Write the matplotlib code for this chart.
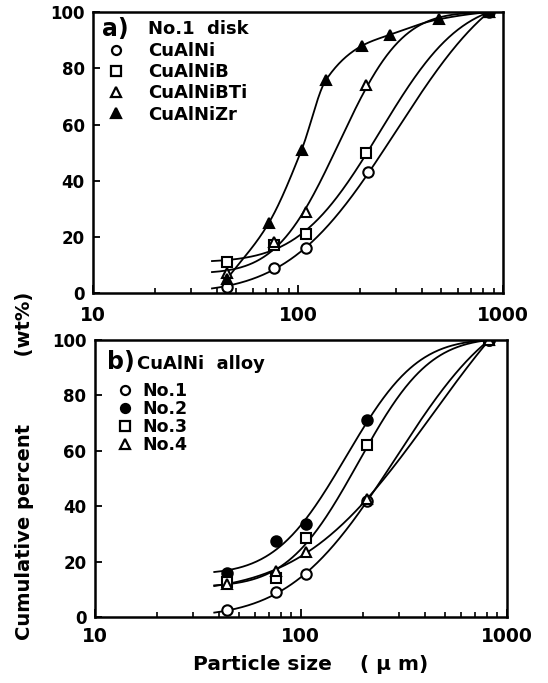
import numpy as np
import matplotlib
matplotlib.use("Agg")
import matplotlib.pyplot as plt
from matplotlib.lines import Line2D
from matplotlib.ticker import LogLocator, NullFormatter, FixedLocator

plt.rcParams['font.family'] = ['DejaVu Sans']
plt.rcParams['font.weight'] = 'bold'

# ---------------- data ----------------
# panel a) No.1 disk
size_a_ni = [45, 76, 109, 220, 850]
pct_a_ni = [2, 9, 16, 43, 100]
size_a_nib = [45, 76, 109, 215, 850]
pct_a_nib = [11, 17, 21, 50, 100]
size_a_nibti = [45, 76, 109, 215, 850]
pct_a_nibti = [7, 18, 29, 74, 100]
size_a_zr = [45, 72, 104, 137, 204, 280, 485, 850]
pct_a_zr = [5, 25, 51, 76, 88, 92, 97.5, 100]
labels_a = ["CuAlNi", "CuAlNiB", "CuAlNiBTi", "CuAlNiZr"]

# panel b) CuAlNi alloy
size_b = [44, 76, 106, 210, 820]
pct_b_no1 = [2.5, 9, 15.5, 42, 100]
pct_b_no2 = [16, 27.5, 33.5, 71, 100]
pct_b_no3 = [12.5, 14, 28.5, 62, 100]
pct_b_no4 = [12, 16.5, 23.5, 42.5, 100]
labels_b = ["No.1", "No.2", "No.3", "No.4"]

xticks = [10, 100, 1000]
xticklabels = ["10", "100", "1000"]
yticks = [0, 20, 40, 60, 80, 100]


# ---------------- helpers ----------------
def erf(z):
    s = np.sign(z)
    z = np.abs(z)
    t = 1.0 / (1.0 + 0.3275911 * z)
    y = 1 - (((((1.061405429 * t - 1.453152027) * t) + 1.421413741) * t
              - 0.284496736) * t + 0.254829592) * t * np.exp(-z * z)
    return s * y


def phi(z):
    return 0.5 * (1 + erf(z / np.sqrt(2)))


def fitted_curve(x, y, x0=38):
    lx = np.log10(np.asarray(x, float))
    yy = np.asarray(y, float)
    end = lx[-1]
    mu = np.linspace(1.8, 3.0, 61)[:, None, None, None]
    sg = np.linspace(0.08, 0.8, 73)[None, :, None, None]
    c = np.linspace(0, 20, 41)[None, None, :, None]
    L = lx[None, None, None, :]
    F = c + (100 - c) * phi((L - mu) / sg) / phi((end - mu) / sg)
    err = ((F - yy) ** 2).sum(axis=-1)
    i, j, k = np.unravel_index(np.argmin(err), err.shape)
    m, s, cc = mu[i, 0, 0, 0], sg[0, j, 0, 0], c[0, 0, k, 0]
    xs = np.logspace(np.log10(x0), end, 300)
    ys = cc + (100 - cc) * phi((np.log10(xs) - m) / s) / phi((end - m) / s)
    return xs, ys


def pchip_curve(x, y):
    lx = np.log10(np.asarray(x, float))
    yy = np.asarray(y, float)
    h = np.diff(lx)
    d = np.diff(yy) / h
    n = len(lx)
    m = np.zeros(n)
    m[0], m[-1] = d[0], d[-1] * 0.5
    for k in range(1, n - 1):
        if d[k - 1] * d[k] <= 0:
            m[k] = 0
        else:
            w1 = 2 * h[k] + h[k - 1]
            w2 = h[k] + 2 * h[k - 1]
            m[k] = (w1 + w2) / (w1 / d[k - 1] + w2 / d[k])
    xs_all, ys_all = [], []
    for k in range(n - 1):
        t = np.linspace(0, 1, 40)
        h00 = 2 * t**3 - 3 * t**2 + 1
        h10 = t**3 - 2 * t**2 + t
        h01 = -2 * t**3 + 3 * t**2
        h11 = t**3 - t**2
        ys = h00 * yy[k] + h10 * h[k] * m[k] + h01 * yy[k + 1] + h11 * h[k] * m[k + 1]
        xs_all.append(10 ** (lx[k] + t * h[k]))
        ys_all.append(ys)
    return np.concatenate(xs_all), np.concatenate(ys_all)


def style_axes(ax, xpad):
    ax.set_xscale('log')
    ax.set_xlim(10, 1000)
    ax.set_ylim(0, 100)
    for sp in ax.spines.values():
        sp.set_linewidth(1.8)
    ax.xaxis.set_major_locator(FixedLocator(xticks))
    ax.set_xticklabels(xticklabels, fontsize=13.5, fontweight='bold')
    ax.xaxis.set_minor_locator(LogLocator(base=10, subs=np.arange(2, 10)))
    ax.xaxis.set_minor_formatter(NullFormatter())
    ax.set_yticks(yticks)
    ax.set_yticklabels([str(v) for v in yticks], fontsize=12, fontweight='bold')
    ax.tick_params(axis='x', which='major', direction='in', length=6, width=1.3, pad=xpad)
    ax.tick_params(axis='x', which='minor', direction='in', length=3.5, width=1.2)
    ax.tick_params(axis='y', which='major', direction='in', length=5, width=1.3, pad=6)


mk = dict(color='black', markersize=7.5, markeredgewidth=1.5, linestyle='none')
lmk = dict(color='black', markersize=6.5, markeredgewidth=1.6, linestyle='none')
line_kw = dict(color='black', linewidth=1.3)

fig = plt.figure(figsize=(5.48, 6.83), dpi=100)

# ---------------- panel a ----------------
ax1 = fig.add_axes([0.170, 0.571, 0.748, 0.411])
style_axes(ax1, 9)

for xs, ys in [fitted_curve(size_a_ni, pct_a_ni),
               fitted_curve(size_a_nib, pct_a_nib),
               fitted_curve(size_a_nibti, pct_a_nibti),
               pchip_curve(size_a_zr, pct_a_zr)]:
    ax1.plot(xs, ys, **line_kw)

ax1.plot(size_a_ni, pct_a_ni, marker='o', markerfacecolor='white', **mk)
ax1.plot(size_a_nib, pct_a_nib, marker='s', markerfacecolor='white', **mk)
ax1.plot(size_a_nibti, pct_a_nibti, marker='^', markerfacecolor='white', **mk)
ax1.plot(size_a_zr, pct_a_zr, marker='^', markerfacecolor='black', **mk)

ax1.text(0.022, 0.94, "a)", transform=ax1.transAxes, fontsize=17,
         fontweight='bold', va='center', ha='left')
ax1.text(0.134, 0.94, "No.1  disk", transform=ax1.transAxes, fontsize=13,
         fontweight='bold', va='center', ha='left')
handles_a = [Line2D([], [], marker='o', markerfacecolor='white', **lmk),
             Line2D([], [], marker='s', markerfacecolor='white', **lmk),
             Line2D([], [], marker='^', markerfacecolor='white', **lmk),
             Line2D([], [], marker='^', markerfacecolor='black', **lmk)]
ax1.legend(handles_a, labels_a, loc='upper left', bbox_to_anchor=(0.034, 0.893),
           frameon=False, handlelength=1.0, handletextpad=1.28,
           labelspacing=0.17, borderpad=0, borderaxespad=0,
           prop={'weight': 'bold', 'size': 13})

# ---------------- panel b ----------------
ax2 = fig.add_axes([0.173, 0.0966, 0.752, 0.4056])
style_axes(ax2, 7)

for pct in [pct_b_no1, pct_b_no2, pct_b_no3, pct_b_no4]:
    xs, ys = fitted_curve(size_b, pct)
    ax2.plot(xs, ys, **line_kw)

ax2.plot(size_b, pct_b_no1, marker='o', markerfacecolor='white', **mk)
ax2.plot(size_b, pct_b_no2, marker='o', markerfacecolor='black', **mk)
ax2.plot(size_b, pct_b_no3, marker='s', markerfacecolor='white', **mk)
ax2.plot(size_b, pct_b_no4, marker='^', markerfacecolor='white', **mk)

ax2.text(0.029, 0.92, "b)", transform=ax2.transAxes, fontsize=17,
         fontweight='bold', va='center', ha='left')
ax2.text(0.102, 0.915, "CuAlNi  alloy", transform=ax2.transAxes, fontsize=13,
         fontweight='bold', va='center', ha='left')
handles_b = [Line2D([], [], marker='o', markerfacecolor='white', **lmk),
             Line2D([], [], marker='o', markerfacecolor='black', **lmk),
             Line2D([], [], marker='s', markerfacecolor='white', **lmk),
             Line2D([], [], marker='^', markerfacecolor='white', **lmk)]
ax2.legend(handles_b, labels_b, loc='upper left', bbox_to_anchor=(0.051, 0.848),
           frameon=False, handlelength=1.0, handletextpad=0.55,
           labelspacing=0.0, borderpad=0, borderaxespad=0,
           prop={'weight': 'bold', 'size': 12.5})

# ---------------- axis labels ----------------
fig.text(0.045, 0.318, "Cumulative percent          (wt%)", rotation=90,
         fontsize=14, fontweight='bold', ha='center', va='center')
fig.text(0.566, 0.027, "Particle size    ( \u03bc m)", fontsize=14.5,
         fontweight='bold', ha='center', va='center')

fig.savefig("out.png", dpi=100)
